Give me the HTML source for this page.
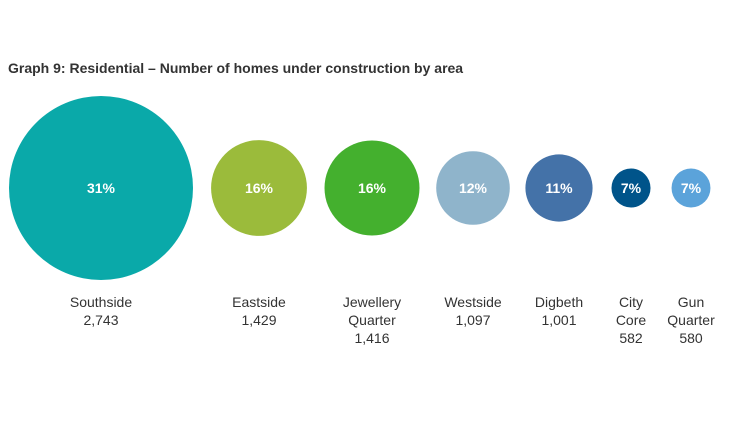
<!DOCTYPE html>
<html><head><meta charset="utf-8"><style>
body{margin:0;background:#fff;width:744px;height:441px;overflow:hidden;font-family:"Liberation Sans",sans-serif}
#title{position:absolute;left:8px;top:60px;font-size:14px;font-weight:bold;color:#333}
</style></head><body>
<div id="title">Graph 9: Residential – Number of homes under construction by area</div>
<svg id="chart" width="744" height="441" style="position:absolute;left:0;top:0"></svg>
<script>
const areas=[["Southside"],["Eastside"],["Jewellery","Quarter"],["Westside"],["Digbeth"],["City","Core"],["Gun","Quarter"]];
const homes=[2743,1429,1416,1097,1001,582,580];
const shares=["31%","16%","16%","12%","11%","7%","7%"];
const valueLabels=["2,743","1,429","1,416","1,097","1,001","582","580"];
const colors=["#0aa9a9","#9bbb3b","#44b02e","#8fb4cb","#4472a8","#00548a","#5ba3da"];
const centersX=[101,259,372,473,559,631,691];
const svg=document.getElementById('chart');
const NS='http://www.w3.org/2000/svg';
const cy=188;
function rScale(v){return v*92/2743;}
homes.forEach((v,i)=>{
  const c=document.createElementNS(NS,'circle');
  c.setAttribute('cx',centersX[i]);c.setAttribute('cy',cy);c.setAttribute('r',rScale(v));c.setAttribute('fill',colors[i]);
  
  
  svg.appendChild(c);
  const t=document.createElementNS(NS,'text');
  t.setAttribute('x',centersX[i]);t.setAttribute('y',cy+5);t.setAttribute('text-anchor','middle');
  t.setAttribute('fill','#fff');t.setAttribute('font-size','14');t.setAttribute('font-weight','bold');
  t.textContent=shares[i];
  
  
  svg.appendChild(t);
  const lines=areas[i].concat([valueLabels[i]]);
  lines.forEach((s,j)=>{
    const l=document.createElementNS(NS,'text');
    l.setAttribute('x',centersX[i]);l.setAttribute('y',307+j*18);l.setAttribute('text-anchor','middle');
    l.setAttribute('fill','#333');l.setAttribute('font-size','14');
    l.textContent=s;
    
    
    svg.appendChild(l);
  });
});
</script>
</body></html>
